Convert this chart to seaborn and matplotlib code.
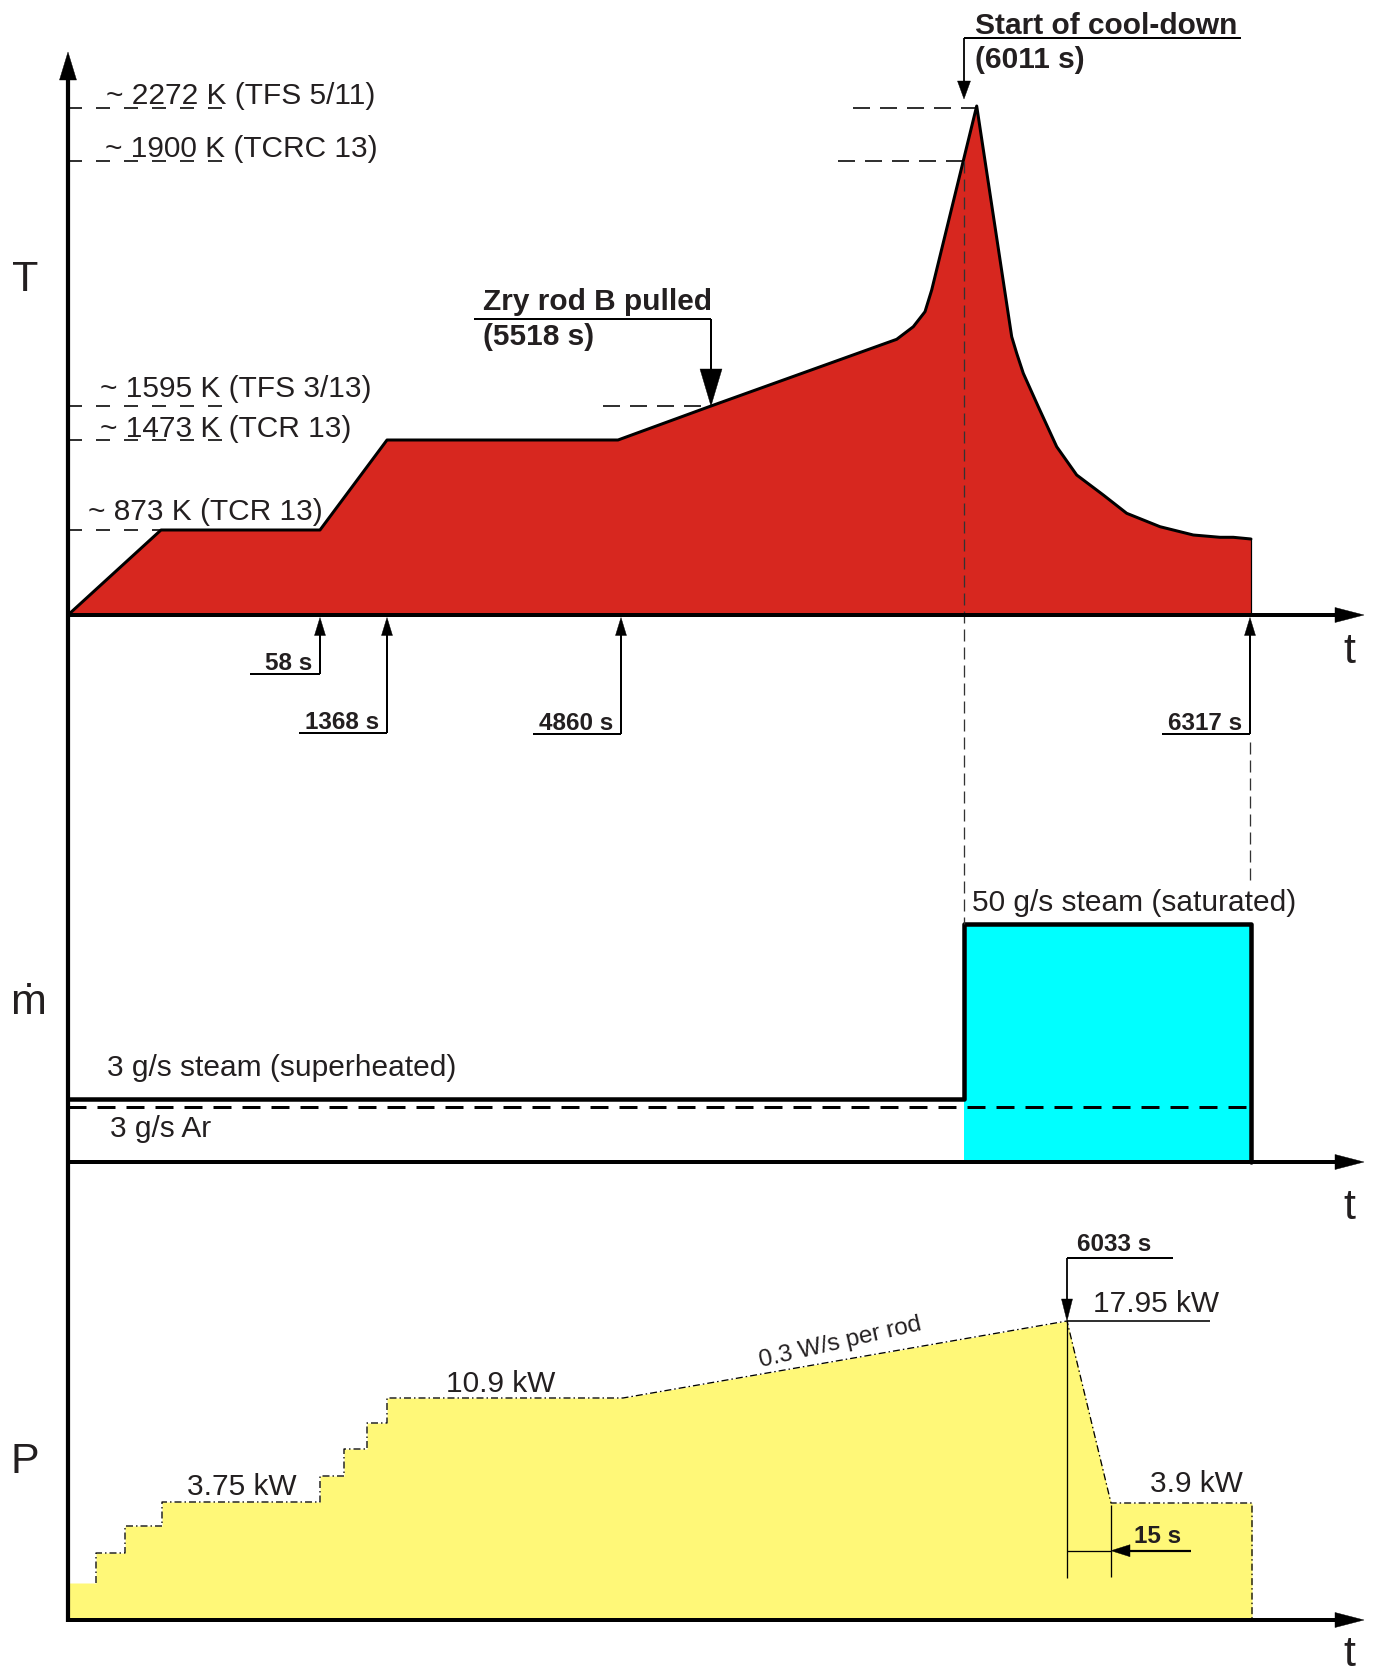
import matplotlib
matplotlib.use("Agg")
import matplotlib.pyplot as plt
from matplotlib.patches import Polygon
import seaborn as sns
import numpy as np

sns.set_theme(style="white")
plt.rcParams["font.family"] = ["Liberation Sans", "DejaVu Sans"]

# ---------------- data (schematic) ----------------
# marked event times and their positions along the non-linear time axis
event_labels = ["58 s", "1368 s", "4860 s", "6317 s"]
event_pos = [252, 319, 553, 1182]

# temperature history: schematic position / height above the time axis
T_pos = [0, 93, 252, 319, 550, 643, 828.7, 845.3, 857, 863.7, 908.7, 943.7, 948.7,
         955.3, 970.3, 988.7, 1008.7, 1035.3, 1058.7, 1092, 1125.3, 1152, 1165.3, 1183]
T_h = [0, 85, 85, 175, 175, 209, 275.7, 288.3, 303.3, 325, 509, 278.3, 261.7,
       241.7, 208.3, 168.3, 140, 120, 101.7, 88.3, 80, 77.7, 77.7, 76]

T_level_K = ["2272", "1900", "1595", "1473", "873"]
T_level_tc = ["TFS 5/11", "TCRC 13", "TFS 3/13", "TCR 13", "TCR 13"]
T_level_h = [507, 454, 209, 175, 85]

# mass flow rates
steam_pos = [0, 896, 896, 1183, 1183]
steam_h = [63, 63, 238, 238, 0]
ar_pos = [0, 1183]
ar_h = [55.5, 55.5]
flow_labels = ["3 g/s steam (superheated)", "3 g/s Ar", "50 g/s steam (saturated)"]

# electric power
P_step_pos = [0, 28, 57, 94, 252, 276, 299, 319]
P_step_h = [37, 67, 94, 118, 144, 171, 197, 222]
P_ramp_pos = [555, 999, 1043, 1184]
P_ramp_h = [222, 299, 117, 117]
P_labels = ["3.75 kW", "10.9 kW", "17.95 kW", "3.9 kW"]

# ---------------- layout ----------------
W, H = 1375, 1676
X0 = 68
BASE_T, BASE_M, BASE_P = 615, 1162, 1620
PT = 0.72  # points per pixel at dpi 100
RED, CYAN, YELLOW = "#d7271f", "#00ffff", "#fff878"
INK = "#231f20"
FS = 21.5
FSB = 17.5


def X(p):
    return X0 + np.asarray(p, dtype=float)


def Y(base, h):
    return base - np.asarray(h, dtype=float)


fig = plt.figure(figsize=(W / 100, H / 100), dpi=100)
ax = fig.add_axes([0, 0, 1, 1])


def head(tip, d, length, hw, z=6):
    tx, ty = tip
    dx, dy = d
    bx, by = tx - dx * length, ty - dy * length
    nx, ny = -dy, dx
    ax.add_patch(Polygon([(tx, ty), (bx + nx * hw, by + ny * hw), (bx - nx * hw, by - ny * hw)],
                         closed=True, fc="black", ec="black", lw=0.3, zorder=z))


def dash(on, off, lw):
    return (0, (on * PT / lw, off * PT / lw))


def line(xs, ys, lw_px, ls="-", z=5, color="black"):
    lw = lw_px * PT
    if isinstance(ls, tuple):
        ls = dash(ls[0], ls[1], lw) if len(ls) == 2 else (0, tuple(v * PT / lw for v in ls))
    ax.plot(xs, ys, color=color, lw=lw, ls=ls, zorder=z, solid_capstyle="butt",
            dash_capstyle="butt")


# ---------------- temperature panel ----------------
tx, ty = X(T_pos), Y(BASE_T, T_h)
ax.fill_between(np.r_[tx, tx[-1]], np.r_[ty, BASE_T], BASE_T, color=RED, lw=0, zorder=1)
sns.lineplot(x=tx, y=ty, sort=False, estimator=None, color="black", lw=3 * PT, ax=ax, zorder=3)
line([tx[-1], tx[-1]], [ty[-1], BASE_T], 1.2, z=3)

left_end = [228, 228, 223, 228, 161]
lab_x = [106, 105, 100, 100, 88]
lab_off = [3.5, 4, 9, 3.5, 10]
for K, tc, h, le, lx, lo in zip(T_level_K, T_level_tc, T_level_h, left_end, lab_x, lab_off):
    y = BASE_T - h
    line([X0, le], [y, y], 1.6, ls=(14, 14), z=4)
    ax.text(lx, y - lo, f"~ {K} K ({tc})", fontsize=FS, color=INK, ha="left", va="baseline")

# right-hand dashed level markers
for h, a, b in [(507, 785, 916), (454, 770, 901), (209, 535, 643)]:
    y = BASE_T - h
    line(X([a, b]), [y, y], 1.6, ls=(17, 10), z=4)

# Zry rod B pulled
zx = X(643)
ax.text(483, 310, "Zry rod B pulled", fontsize=FS, fontweight="bold", color=INK, va="baseline")
ax.text(483, 345, "(5518 s)", fontsize=FS, fontweight="bold", color=INK, va="baseline")
line([474, zx], [319, 319], 2)
line([zx, zx], [319, 380], 2)
head((zx, Y(BASE_T, 209)), (0, 1), 37, 11)

# Start of cool-down
cx = X(896)
ax.text(975.5, 34.5, "Start of cool-down", fontsize=FS, fontweight="bold", color=INK, va="baseline")
ax.text(975.5, 67.5, "(6011 s)", fontsize=FS, fontweight="bold", color=INK, va="baseline")
line([cx, 1241.5], [38.5, 38.5], 2)
line([cx, cx], [38.5, 85], 1.8)
head((cx, 99), (0, 1), 18, 6.5)
line([cx, cx], [Y(BASE_T, 454), Y(BASE_M, 238)], 1.3, ls=(12, 6), z=4, color="#333333")

# event arrows below the time axis
line_y = [674, 733, 734, 734]
line_len = [70, 88, 88, 88]
for lab, p, ly, ll in zip(event_labels, event_pos, line_y, line_len):
    x = X(p)
    line([x - ll, x], [ly, ly], 2)
    line([x, x], [ly, 630], 2)
    head((x, BASE_T + 2.5), (0, -1), 18, 5.5)
    ax.text(x - 8, ly - 4.5, lab, fontsize=FSB, fontweight="bold", color=INK, ha="right", va="baseline")
ex = X(event_pos[-1])
line([ex, ex], [742, 884], 1.3, ls=(12, 6), z=4, color="#333333")

# ---------------- flow panel ----------------
ax.fill_between(X([896, 1183]), Y(BASE_M, 238), BASE_M, color=CYAN, lw=0, zorder=1)
sns.lineplot(x=X(steam_pos), y=Y(BASE_M, steam_h), sort=False, estimator=None,
             color="black", lw=4.5 * PT, ax=ax, zorder=3)
line(X(ar_pos), Y(BASE_M, ar_h), 3, ls=(18, 11), z=3)
ax.text(107, 1076, flow_labels[0], fontsize=FS, color=INK, va="baseline")
ax.text(110, 1137, flow_labels[1], fontsize=FS, color=INK, va="baseline")
ax.text(972, 911, flow_labels[2], fontsize=FS, color=INK, va="baseline")

# ---------------- power panel ----------------
px_, py_ = [], []
for i, (p, h) in enumerate(zip(P_step_pos, P_step_h)):
    nxt = P_step_pos[i + 1] if i + 1 < len(P_step_pos) else P_ramp_pos[0]
    if i > 0:
        px_.append(p); py_.append(P_step_h[i - 1])
    px_ += [p, nxt]; py_ += [h, h]
px_ += P_ramp_pos[1:] + [P_ramp_pos[-1]]
py_ += P_ramp_h[1:] + [0]
ppx, ppy = X(px_), Y(BASE_P, py_)
ax.fill_between(ppx, ppy, BASE_P, color=YELLOW, lw=0, zorder=1)
line(ppx[1:], ppy[1:], 1.3, ls=(7, 3, 1.5, 3), z=3)

ax.text(186.6, 1495, P_labels[0], fontsize=FS, color=INK, va="baseline")
ax.text(446, 1391.5, P_labels[1], fontsize=FS, color=INK, va="baseline")
ax.text(1092.6, 1312, P_labels[2], fontsize=FS, color=INK, va="baseline")
ax.text(1150, 1491.5, P_labels[3], fontsize=FS, color=INK, va="baseline")
ax.text(761, 1367, "0.3 W/s per rod", fontsize=17.5, color=INK, rotation=13,
        rotation_mode="anchor", ha="left", va="baseline")

# 6033 s marker
kx = X(P_ramp_pos[1])
ax.text(1077.5, 1251, "6033 s", fontsize=FSB, fontweight="bold", color=INK, va="baseline")
line([kx, 1173.5], [1257.7, 1257.7], 2)
line([kx, kx], [1257.7, 1305], 1.8)
head((kx, Y(BASE_P, 299)), (0, 1), 22, 5.5)
line([kx, 1210], [1321, 1321], 1.6)
# 15 s marker
dx2 = X(P_ramp_pos[2])
line([kx, kx], [1321, 1578], 1.3)
line([dx2, dx2], [1505, 1577], 1.3)
line([kx, dx2], [1550.7, 1550.7], 1.3)
line([dx2 + 15, 1190.7], [1550.7, 1550.7], 2.2)
head((dx2, 1550.7), (-1, 0), 19, 6)
ax.text(1134, 1543, "15 s", fontsize=FSB, fontweight="bold", color=INK, va="baseline")

# ---------------- axes ----------------
line([X0, X0], [78, BASE_P + 2], 4.2, z=7)
head((X0, 52), (0, -1), 28, 8.5, z=7)
for b in (BASE_T, BASE_M, BASE_P):
    line([X0 - 2, 1337], [b, b], 4, z=7)
    head((1364, b), (1, 0), 29, 7.5, z=7)

BIG = 31
ax.text(25.5, 280, "T", fontsize=BIG, color=INK, ha="center", va="center")
ax.text(28, 1003, "\u1e41", fontsize=BIG, color=INK, ha="center", va="center")
ax.text(24.5, 1462, "P", fontsize=BIG, color=INK, ha="center", va="center")
for yy in (652, 1208, 1655):
    ax.text(1349, yy, "t", fontsize=BIG, color=INK, ha="center", va="center")

ax.set_xlim(0, W)
ax.set_ylim(H, 0)
ax.axis("off")
fig.savefig("out.png", dpi=100)
